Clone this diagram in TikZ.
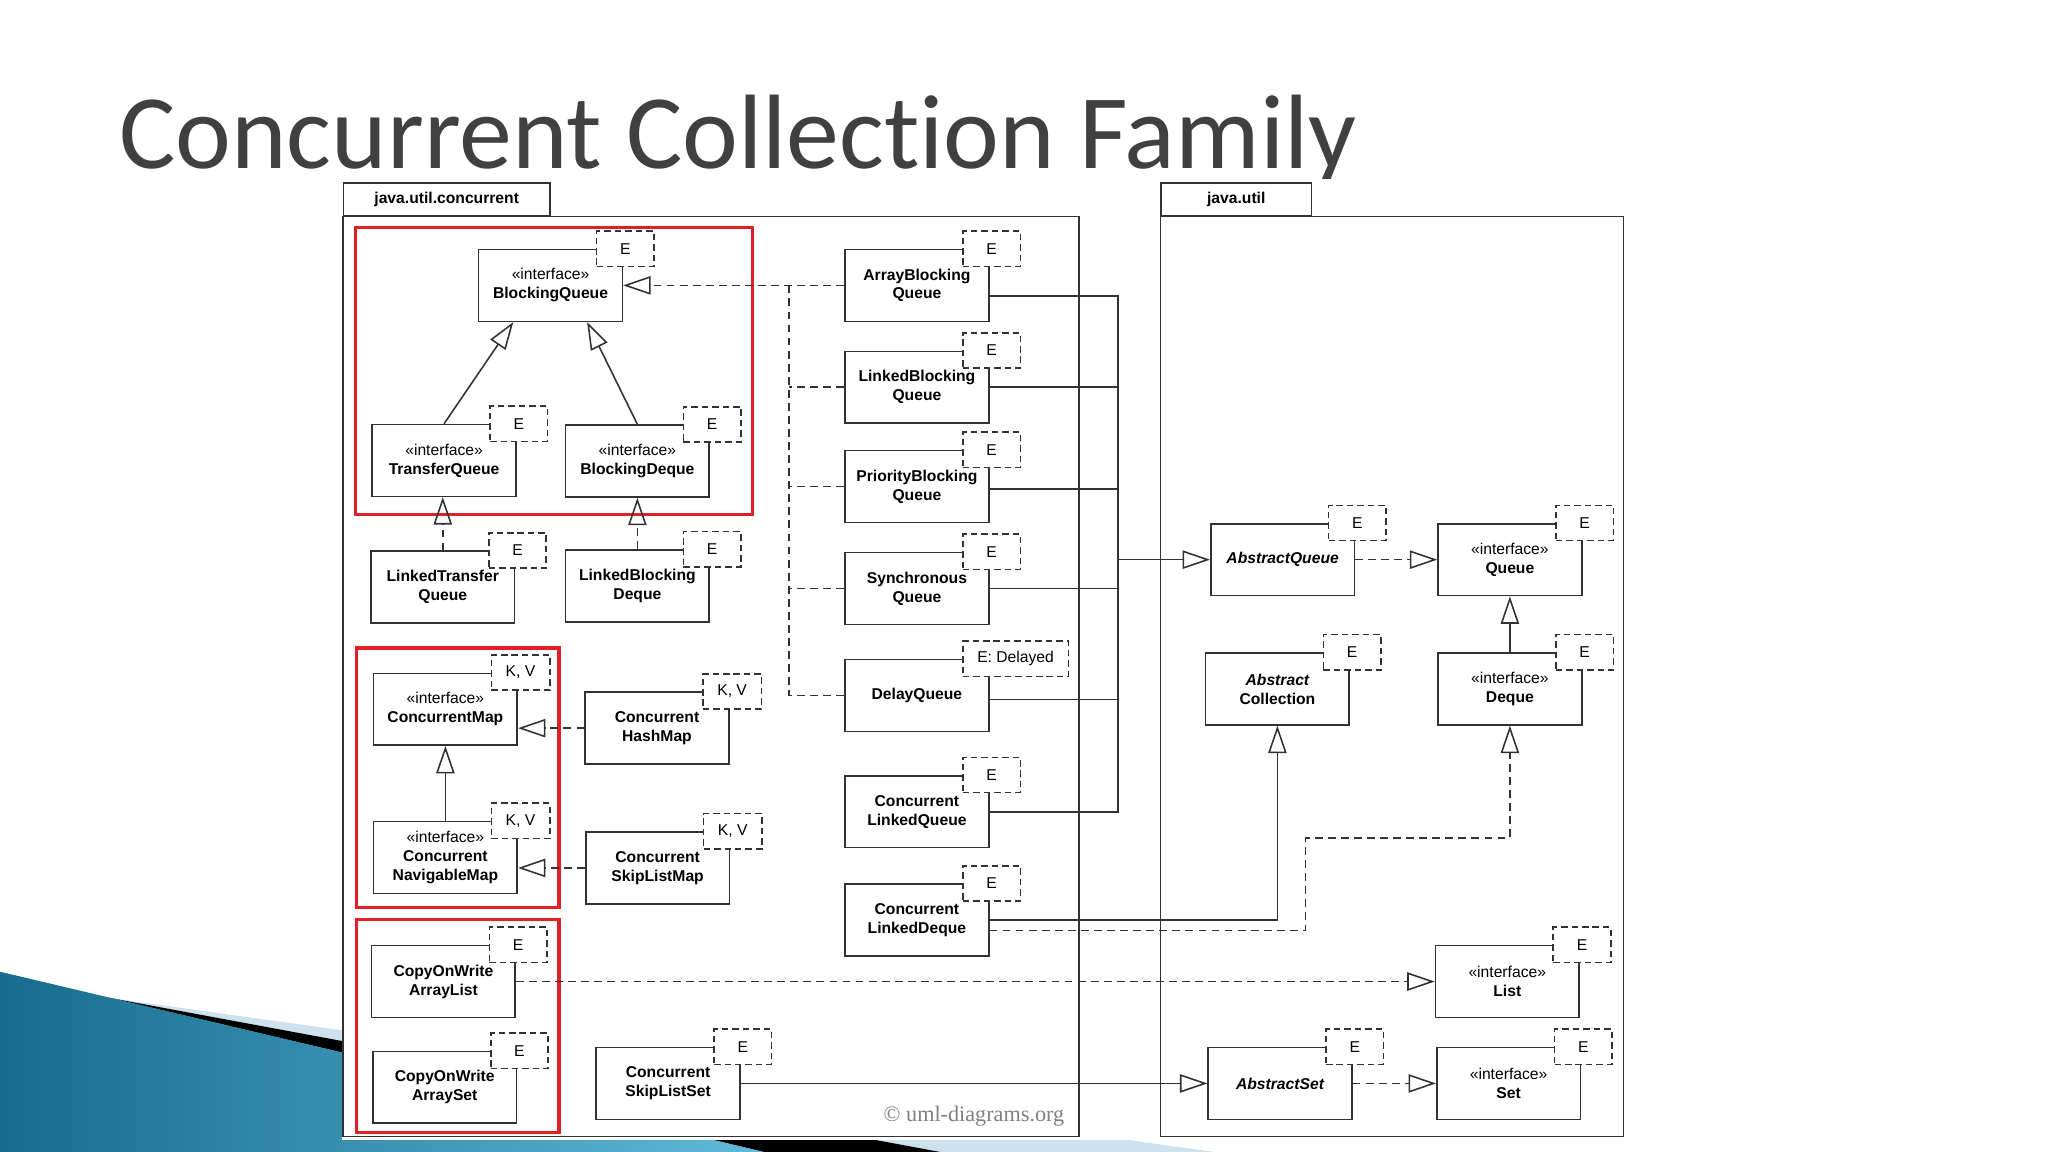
\documentclass[tikz,border=0pt]{standalone}
\usepackage{fontspec}
\setmainfont{Liberation Sans}
\newfontfamily\titlefont[Ligatures=NoCommon]{Carlito}
\newfontfamily\markfont{Liberation Serif}
\usetikzlibrary{arrows.meta}

\definecolor{umlline}{RGB}{50,50,50}
\definecolor{redbox}{RGB}{226,30,38}
\definecolor{tealdark}{RGB}{22,108,140}
\definecolor{teallight}{RGB}{96,186,218}
\definecolor{paleblue}{RGB}{205,226,238}
\definecolor{titlegray}{RGB}{64,64,64}

\newcommand{\stereo}{{\mdseries «interface»}\\}

\begin{document}
\begin{tikzpicture}[x=1pt,y=-1pt,
	cls/.style={draw=umlline,line width=1.2pt,fill=white,minimum width=110pt,minimum height=55pt,
	  inner sep=0pt,align=center,font=\fontsize{12}{14.5}\selectfont\bfseries},
	tpl/.style={draw=umlline,line width=1.2pt,dash pattern=on 5pt off 3pt,fill=white,minimum width=44pt,
	  minimum height=27pt,inner xsep=11pt,inner ysep=0pt,anchor=west,font=\fontsize{12}{14.5}\selectfont},
	pkgtab/.style={draw=umlline,line width=1.2pt,minimum height=25pt,inner sep=0pt,
	  font=\fontsize{12}{14.5}\selectfont\bfseries},
	wire/.style={draw=umlline,line width=1.2pt},
	dep/.style={wire,dash pattern=on 6pt off 4pt},
	gen/.style={wire,-{Triangle[open,length=21pt,width=14pt]}},
	realize/.style={gen,dash pattern=on 6pt off 4pt},
	hl/.style={draw=redbox,line width=2.6pt}]
	\useasboundingbox (0,0) rectangle (1568,882);

	\fill [paleblue] (84,764) -- (930,882) -- (720,882) -- cycle;
	\fill [black] (84,764) -- (720,882) -- (585,882) -- cycle;
	\shade [left color=tealdark,right color=teallight] (0,744) -- (585,882) -- (0,882) -- cycle;

	\node (title) at (91,129) [anchor=base west,inner sep=0pt,text=titlegray,
	  font=\titlefont\fontsize{81}{81}\selectfont] {Concurrent Collection Family};

	\fill [white] (262,137) rectangle (1246,873);
	\node (pkgc) at (342,152.5) [pkgtab,minimum width=158pt] {java.util.concurrent};
	\draw [wire] (pkgc.south west) rectangle (826,870);
	\node (pkgu) at (946.5,152.5) [pkgtab,minimum width=115pt] {java.util};
	\draw [wire] (pkgu.south west) rectangle (1243,870);

	\draw [hl] (272,174) rectangle (576,394);
	\draw [hl] (273,496) rectangle (428,695);
	\draw [hl] (273,704) rectangle (428,867);

	\node (bq) at (421.5,218.5) [cls] {\stereo BlockingQueue};
	\node (tq) at (340,352.5) [cls] {\stereo TransferQueue};
	\node (bd) at (488,353) [cls] {\stereo BlockingDeque};
	\node (ltq) at (339,449.5) [cls] {LinkedTransfer\\Queue};
	\node (lbd) at (488,448.5) [cls] {LinkedBlocking\\Deque};
	\node (cm) at (341,543) [cls] {\stereo ConcurrentMap};
	\node (cnm) at (341,656.5) [cls] {\stereo Concurrent\\NavigableMap};
	\node (chm) at (503,557.5) [cls] {Concurrent\\HashMap};
	\node (cslm) at (503.5,664.5) [cls] {Concurrent\\SkipListMap};
	\node (cowal) at (339.5,751.5) [cls] {CopyOnWrite\\ArrayList};
	\node (cowas) at (340.5,832.5) [cls] {CopyOnWrite\\ArraySet};
	\node (csls) at (511.5,829.5) [cls] {Concurrent\\SkipListSet};

	\node (abq) at (702,218.5) [cls] {ArrayBlocking\\Queue};
	\node (lbq) at (702,296.5) [cls] {LinkedBlocking\\Queue};
	\node (pbq) at (702,372.5) [cls] {PriorityBlocking\\Queue};
	\node (sq) at (702,450.5) [cls] {Synchronous\\Queue};
	\node (dq) at (702,532.5) [cls] {DelayQueue};
	\node (clq) at (702,621.5) [cls] {Concurrent\\LinkedQueue};
	\node (cld) at (702,704.5) [cls] {Concurrent\\LinkedDeque};

	\node (aq) at (982,428.5) [cls] {\itshape AbstractQueue};
	\node (q) at (1156,428.5) [cls] {\stereo Queue};
	\node (ac) at (978,527.5) [cls] {\itshape Abstract\\Collection};
	\node (dqe) at (1156,527.5) [cls] {\stereo Deque};
	\node (lst) at (1154,751.5) [cls] {\stereo List};
	\node (as) at (980,829.5) [cls] {\itshape AbstractSet};
	\node (st) at (1155,829.5) [cls] {\stereo Set};

	\foreach \n/\p in {bq/E,tq/E,bd/E,ltq/E,lbd/E,cm/{K, V},cnm/{K, V},chm/{K, V},cslm/{K, V},
	    cowal/E,cowas/E,csls/E,abq/E,lbq/E,pbq/E,sq/E,dq/{E: Delayed},clq/E,cld/E,
	    aq/E,q/E,ac/E,dqe/E,lst/E,as/E,st/E} {
	  \node (\n p) at ([xshift=-21pt]\n.north east) [tpl] {\p};
	}

	\draw [gen] (tq.north) -- ([xshift=-28.5pt]bq.south);
	\draw [gen] (bd.north) -- ([xshift=28pt]bq.south);
	\draw [realize] (ltq.north) -- (ltq.north |- tq.south);
	\draw [realize] (lbd.north) -- (lbd.north |- bd.south);
	\draw [gen] (cnm.north) -- (cm.south);
	\draw [realize] (chm.west) -- (chm.west -| cm.east);
	\draw [realize] (cslm.west) -- (cslm.west -| cnm.east);

	\draw [realize] (abq.west) -- (bq.east);
	\coordinate (dbus) at (604,218.5);
	\draw [dep] (dbus) -- (dbus |- dq.west);
	\foreach \n in {lbq,pbq,sq,dq} {
	  \draw [dep] (\n.west) -- (dbus |- \n.west);
	}

	\coordinate (sbus) at (856,428.5);
	\foreach \n/\d in {abq/-8,lbq/0,pbq/-2,sq/0,dq/-3,clq/0} {
	  \draw [wire] ([yshift=\d pt]\n.east) -| (sbus);
	}
	\draw [gen] (sbus) -- (aq.west);
	\draw [realize] (aq.east) -- (q.west);
	\draw [gen] (dqe.north) -- (q.south);

	\draw [gen] (cld.east) -| (ac.south);
	\coordinate (cldj) at (999.5,641.5);
	\draw [realize] ([yshift=-8pt]cld.east) -| (cldj) -| (dqe.south);
	\draw [realize] (cowal.east) -- (lst.west);
	\draw [gen] (csls.east) -- (as.west);
	\draw [realize] (as.east) -- (st.west);

	\node (mark) at (815,859) [anchor=base east,inner sep=0pt,text=gray,
	  font=\markfont\fontsize{17}{17}\selectfont] {© uml-diagrams.org};
\end{tikzpicture}
\end{document}
